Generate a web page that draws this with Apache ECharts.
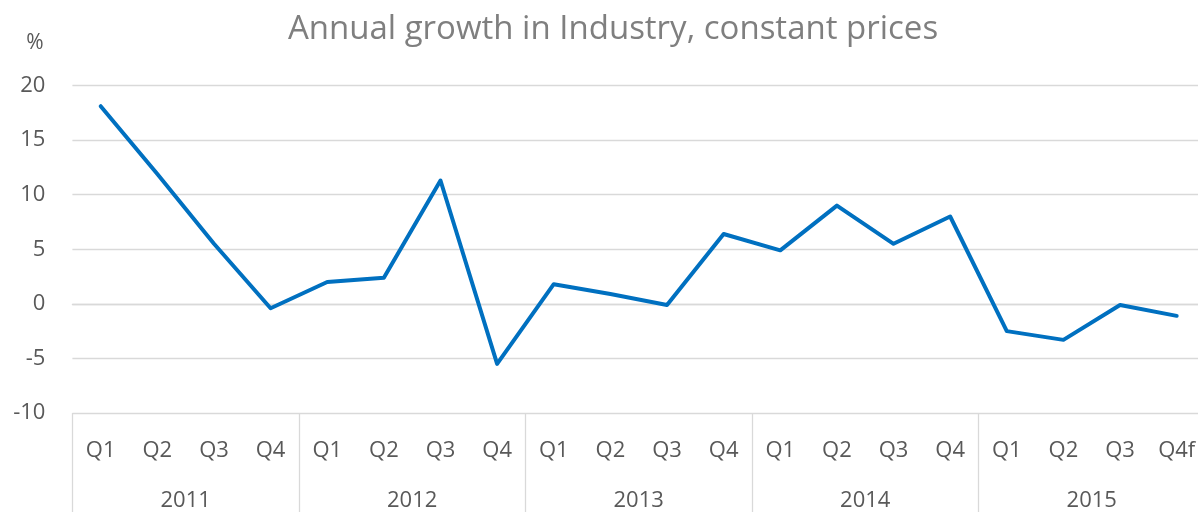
<!DOCTYPE html>
<html>
<head>
<meta charset="utf-8">
<script src="https://cdn.jsdelivr.net/npm/echarts@6/dist/echarts.min.js"></script>
<style>
  html, body { margin: 0; padding: 0; background: #fff; }
  #chart { width: 1198px; height: 512px; }
</style>
</head>
<body>
<div id="chart"></div>
<script>
// Quarterly industry growth, % year on year
const quarters = ['Q1','Q2','Q3','Q4','Q1','Q2','Q3','Q4','Q1','Q2','Q3','Q4','Q1','Q2','Q3','Q4','Q1','Q2','Q3','Q4f'];
const years = ['2011', '2012', '2013', '2014', '2015'];
const growth = [18.1, 11.9, 5.5, -0.4, 2.0, 2.4, 11.3, -5.5, 1.8, 0.9, -0.1, 6.4, 4.9, 9.0, 5.5, 8.0, -2.5, -3.3, -0.1, -1.1];
const yTicks = { min: -10, max: 20, step: 5 };

const FONT = '"Open Sans", sans-serif';
const GRID_COLOR = '#d9d9d9';
const LABEL_COLOR = '#595959';
const LABEL_SIZE = 22;

const chart = echarts.init(document.getElementById('chart'), null, { renderer: 'canvas' });

chart.setOption({
  animation: false,
  backgroundColor: '#ffffff',
  graphic: [
    {
      type: 'text',
      x: 613, y: 30,
      style: {
        text: 'Annual growth in Industry, constant prices',
        font: '33px ' + FONT,
        fill: '#7f7f7f',
        textAlign: 'center',
        textVerticalAlign: 'middle'
      }
    },
    {
      type: 'text',
      x: 35, y: 43,
      style: {
        text: '%',
        font: '21px ' + FONT,
        fill: LABEL_COLOR,
        textAlign: 'center',
        textVerticalAlign: 'middle'
      }
    }
  ],
  // the plot runs a few pixels past the right edge of the canvas
  grid: {
    left: 72.4, top: 85.5, width: 1132.6, height: 327.5,
    containLabel: false,
    outerBoundsMode: 'none'
  },
  xAxis: [
    {
      type: 'category',
      data: quarters,
      position: 'bottom',
      boundaryGap: true,
      axisLine: { show: true, lineStyle: { color: GRID_COLOR, width: 1.3 } },
      axisTick: { show: false },
      axisLabel: {
        interval: 0,
        margin: 27,
        color: LABEL_COLOR,
        fontFamily: FONT,
        fontSize: LABEL_SIZE
      },
      splitLine: { show: false }
    },
    {
      type: 'category',
      data: years,
      position: 'bottom',
      boundaryGap: true,
      axisLine: { show: false },
      axisTick: {
        show: true,
        interval: 0,
        length: 100,
        lineStyle: { color: GRID_COLOR, width: 1.3 }
      },
      axisLabel: {
        interval: 0,
        margin: 77,
        color: LABEL_COLOR,
        fontFamily: FONT,
        fontSize: LABEL_SIZE
      },
      splitLine: { show: false }
    }
  ],
  yAxis: {
    type: 'value',
    min: yTicks.min,
    max: yTicks.max,
    interval: yTicks.step,
    axisLine: { show: false },
    axisTick: { show: false },
    axisLabel: {
      margin: 27,
      color: LABEL_COLOR,
      fontFamily: FONT,
      fontSize: LABEL_SIZE
    },
    splitLine: { show: true, lineStyle: { color: GRID_COLOR, width: 1.3 } }
  },
  series: [
    {
      type: 'line',
      xAxisIndex: 0,
      data: growth,
      symbol: 'none',
      lineStyle: { color: '#0070c0', width: 4, join: 'round', cap: 'round' },
      itemStyle: { color: '#0070c0' }
    }
  ]
});
</script>
</body>
</html>
